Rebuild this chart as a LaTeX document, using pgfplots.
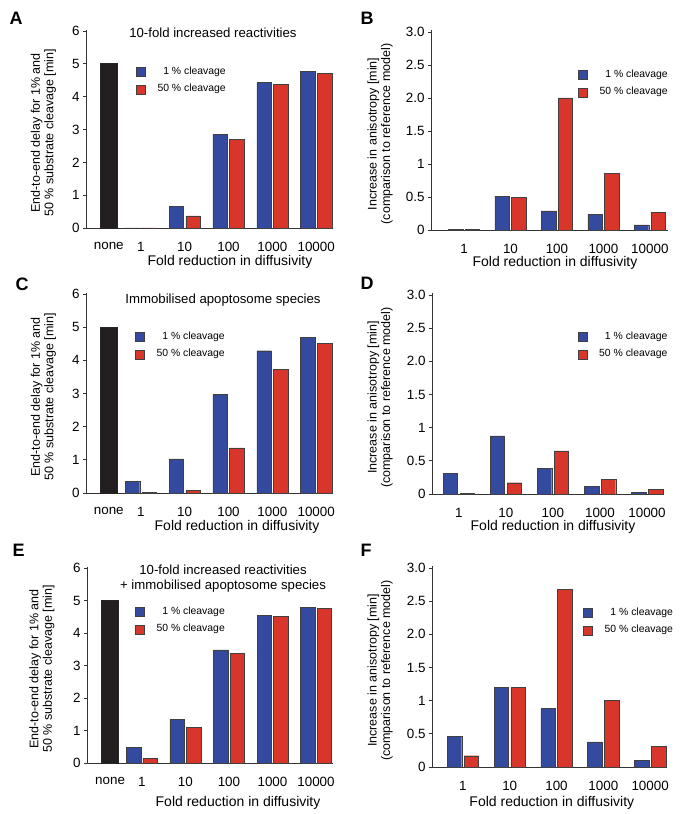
\documentclass[border=0pt]{standalone}
\usepackage{fontspec}
\setmainfont{Liberation Sans}
\usepackage{pgfplots}
\pgfplotsset{compat=1.18}
\definecolor{blueb}{RGB}{52,74,158}
\definecolor{redb}{RGB}{216,54,42}
\definecolor{blackb}{RGB}{35,31,32}
\pgfplotsset{
  panel/.style={
    scale only axis, clip=false,
    axis lines=left, axis line style={-, draw=black!80, line width=0.7pt},
    ymin=0, tick align=outside, major tick length=3pt,
    xtick style={draw=none},
    ytick style={draw=black!80, line width=0.7pt},
    ticklabel style={font=\fontsize{13.4}{15}\selectfont},
    xticklabel style={yshift=-7.5pt},
    /pgf/number format/assume math mode=true,
    xlabel style={font=\fontsize{14}{16}\selectfont, anchor=center},
    ylabel style={font=\fontsize{12.5}{13.5}\selectfont, align=center, anchor=center},
    legend cell align=right,
    legend style={draw=none, fill=none, inner sep=0pt, anchor=north east,
      font=\fontsize{10.4}{12}\selectfont,
      nodes={inner sep=0pt, text height=7pt, text depth=2pt},
      row sep=8pt, column sep=12pt},
    legend image code/.code={\draw[##1, line width=0.4pt] (0pt,-4.5pt) rectangle (9pt,4.5pt);},
    xlabel={Fold reduction in diffusivity},
  },
  left panel/.style={panel, xmin=-0.25, xmax=5.36, ymax=6.03, ytick={0,1,...,6},
    xtick={0.27,1,2,3,4,5}, xticklabels={none,1,10,100,1000,10000},
    ylabel={End-to-end delay for 1\% and\\50 \% substrate cleavage [min]}},
  right panel/.style={panel, ymax=3.03, ytick={0,0.5,...,3}, yticklabels={0,0.5,1,1.5,2.0,2.5,3.0},
    xtick={1,2,3,4,5}, xticklabels={1,10,100,1000,10000},
    ylabel={Increase in anisotropy [min]\\(comparison to reference model)}},
  bk/.style={ybar, fill=blackb, draw=black!85, line width=0.4pt, bar width=0.39, bar shift=0, forget plot},
  bl/.style={ybar, fill=blueb, draw=black!75, line width=0.4pt, bar width=#1, bar shift=-0.19},
  rd/.style={ybar, fill=redb, draw=black!75, line width=0.4pt, bar width=#1, bar shift=0.19},
}
\newcommand{\lbl}[1]{\fontsize{18}{20}\selectfont\bfseries #1}
\begin{document}
\begin{tikzpicture}
\path[use as bounding box] (0pt,0pt) rectangle (685pt,814pt);
% ---------------- A
\begin{axis}[left panel, at={(86pt,586pt)}, anchor=south west, width=246pt, height=198pt,
  xlabel style={at={(axis description cs:0.585,-0.172)}},
  ylabel style={at={(axis description cs:-0.173,0.48)}},
  legend style={at={(axis description cs:0.569,0.813)}}]
\addplot[bk] coordinates {(0.27,5.02)};
\addplot[bl=0.33] coordinates {(1,0) (2,0.65) (3,2.86) (4,4.43) (5,4.76)};
\addplot[rd=0.33] coordinates {(1,0) (2,0.37) (3,2.69) (4,4.37) (5,4.72)};
\legend{1 \% cleavage, 50 \% cleavage}
\node[font=\fontsize{13.2}{15}\selectfont] at (axis description cs:0.516,0.985) {10-fold increased reactivities};
\end{axis}
% ---------------- B
\begin{axis}[right panel, at={(431pt,584pt)}, anchor=south west, width=237pt, height=200pt,
  xmin=0.29, xmax=5.39,
  xlabel style={at={(axis description cs:0.523,-0.165)}},
  ylabel style={at={(axis description cs:-0.215,0.48)}},
  legend style={at={(axis description cs:1.0,0.80)}}]
\addplot[bl=0.31, bar shift=-0.18] coordinates {(1,0.01) (2,0.51) (3,0.29) (4,0.24) (5,0.076)};
\addplot[rd=0.31, bar shift=0.18] coordinates {(1,0.01) (2,0.49) (3,2.0) (4,0.855) (5,0.263)};
\legend{1 \% cleavage, 50 \% cleavage}
\end{axis}
% ---------------- C
\begin{axis}[left panel, at={(86pt,321pt)}, anchor=south west, width=246pt, height=200pt,
  xlabel style={at={(axis description cs:0.614,-0.17)}},
  ylabel style={at={(axis description cs:-0.173,0.48)}},
  legend style={at={(axis description cs:0.565,0.805)}}]
\addplot[bk] coordinates {(0.27,4.99)};
\addplot[bl=0.33] coordinates {(1,0.36) (2,1.03) (3,2.97) (4,4.29) (5,4.70)};
\addplot[rd=0.33] coordinates {(1,0.01) (2,0.07) (3,1.36) (4,3.73) (5,4.52)};
\legend{1 \% cleavage, 50 \% cleavage}
\node[font=\fontsize{13.2}{15}\selectfont] at (axis description cs:0.557,0.965) {Immobilised apoptosome species};
\end{axis}
% ---------------- D
\begin{axis}[right panel, at={(432pt,320pt)}, anchor=south west, width=231pt, height=201pt,
  xmin=0.43, xmax=5.34,
  xlabel style={at={(axis description cs:0.524,-0.164)}},
  ylabel style={at={(axis description cs:-0.225,0.48)}},
  legend style={at={(axis description cs:1.02,0.806)}}]
\addplot[bl=0.31, bar shift=-0.18] coordinates {(1,0.31) (2,0.876) (3,0.39) (4,0.12) (5,0.03)};
\addplot[rd=0.31, bar shift=0.18] coordinates {(1,0.005) (2,0.17) (3,0.65) (4,0.22) (5,0.065)};
\legend{1 \% cleavage, 50 \% cleavage}
\end{axis}
% ---------------- E
\begin{axis}[left panel, at={(87pt,51pt)}, anchor=south west, width=246pt, height=196pt,
  xmin=-0.26, xmax=5.39,
  xlabel style={at={(axis description cs:0.614,-0.204)}},
  ylabel style={at={(axis description cs:-0.183,0.48)}},
  legend style={at={(axis description cs:0.561,0.796)}}]
\addplot[bk] coordinates {(0.27,5.0)};
\addplot[bl=0.33] coordinates {(1,0.48) (2,1.35) (3,3.48) (4,4.55) (5,4.78)};
\addplot[rd=0.33] coordinates {(1,0.15) (2,1.10) (3,3.37) (4,4.52) (5,4.76)};
\legend{1 \% cleavage, 50 \% cleavage}
\node[font=\fontsize{13.2}{15}\selectfont, align=center] at (axis description cs:0.553,0.941) {10-fold increased reactivities\\+ immobilised apoptosome species};
\end{axis}
% ---------------- F
\begin{axis}[right panel, at={(432pt,47pt)}, anchor=south west, width=235pt, height=201pt,
  xmin=0.34, xmax=5.36,
  xlabel style={at={(axis description cs:0.51,-0.179)}},
  ylabel style={at={(axis description cs:-0.221,0.48)}},
  legend style={at={(axis description cs:1.026,0.791)}}]
\addplot[bl=0.31, bar shift=-0.18] coordinates {(1,0.46) (2,1.2) (3,0.88) (4,0.38) (5,0.10)};
\addplot[rd=0.31, bar shift=0.18] coordinates {(1,0.17) (2,1.2) (3,2.68) (4,1.0) (5,0.31)};
\legend{1 \% cleavage, 50 \% cleavage}
\end{axis}
% panel letters
\node[anchor=west] at (6pt,796pt) {\lbl{A}};
\node[anchor=west] at (357pt,796pt) {\lbl{B}};
\node[anchor=west] at (12pt,530pt) {\lbl{C}};
\node[anchor=west] at (357pt,531pt) {\lbl{D}};
\node[anchor=west] at (9pt,264pt) {\lbl{E}};
\node[anchor=west] at (357pt,264pt) {\lbl{F}};
\end{tikzpicture}
\end{document}
